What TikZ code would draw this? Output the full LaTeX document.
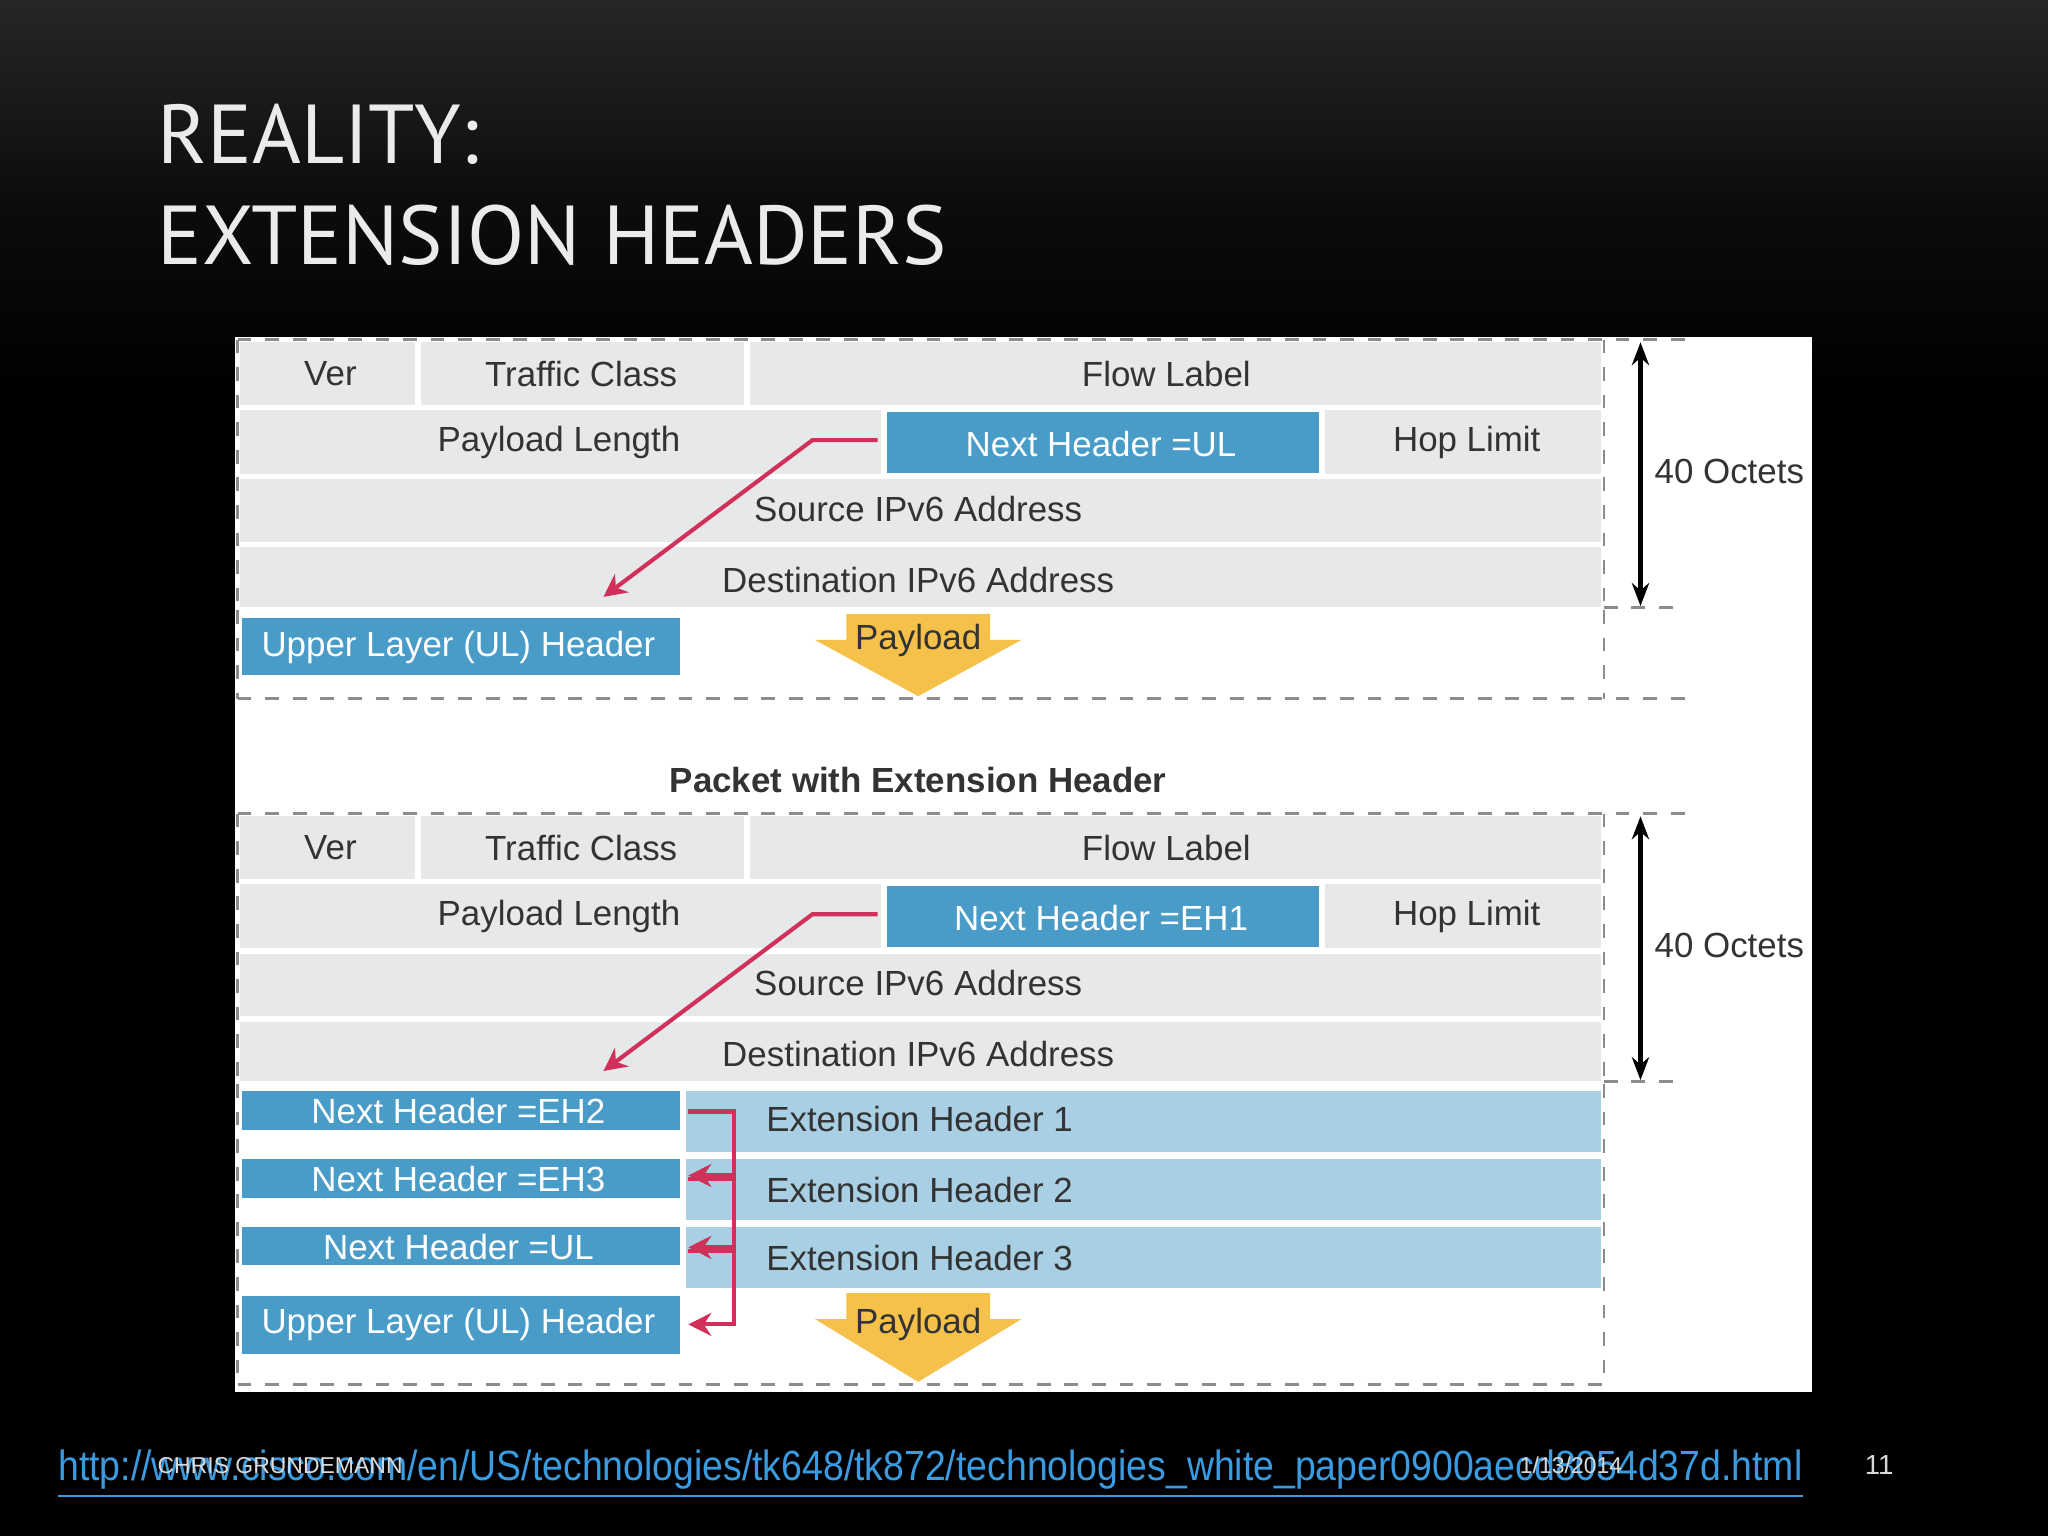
\documentclass[tikz,border=0pt]{standalone}
\usepackage{fontspec}
\setmainfont{Liberation Sans}
\newfontfamily\titlefont{PT Sans}
\usetikzlibrary{arrows.meta}
\definecolor{hdrgray}{HTML}{E6E8EA}
\definecolor{hblue}{HTML}{4A9CC8}
\definecolor{lblue}{HTML}{A8CFE3}
\definecolor{arred}{HTML}{D0305A}
\definecolor{payy}{HTML}{F6C14A}
\definecolor{linkblue}{HTML}{3A9BE0}
\tikzset{
  cell/.style={fill=hdrgray,draw=white,line width=1.2pt},
  bluebox/.style={fill=hblue,draw=white,line width=1.2pt},
  ehrow/.style={fill=lblue,draw=white,line width=1.2pt},
  txt/.style={font=\fontsize{7.6pt}{9pt}\selectfont,text=black!80,inner sep=0},
  wtxt/.style={font=\fontsize{7.6pt}{9pt}\selectfont,text=white,inner sep=0},
  dsh/.style={draw=black!45,dashed,line width=0.6pt},
  redarr/.style={draw=arred,line width=0.9pt,-{Stealth[length=5pt,width=5pt]}},
  oct/.style={draw=black,line width=0.9pt,{Stealth[length=5pt]}-{Stealth[length=5pt]}},
  payload/.style={fill=payy,draw=none}
}
\begin{document}
\begin{tikzpicture}[x=0.01cm,y=-0.01cm]
\useasboundingbox (0,0) rectangle (1568,1176);
\shade[top color=black!85,bottom color=black,middle color=black!95] (0,0) rectangle (1568,300);
\fill[black] (0,300) rectangle (1568,1176);
\node[anchor=west,inner sep=0,text=white!92!black,font=\titlefont\fontsize{18.2pt}{22pt}\selectfont] (t1) at (120,103) {REALITY:};
\node[anchor=west,inner sep=0,text=white!92!black,font=\titlefont\fontsize{18.2pt}{22pt}\selectfont] (t2) at (120,180) {EXTENSION HEADERS};
\fill[white] (180,258) rectangle (1387,1066);
\foreach \o/\nh/\lbl in {0/UL/a,363/EH1/b}{
\begin{scope}[yshift=-\o*0.01cm]
 \draw[cell] (182,260) rectangle (320,312);
 \draw[cell] (320,260) rectangle (572,312);
 \draw[cell] (572,260) rectangle (1228,312);
 \draw[cell] (182,312) rectangle (677,365);
 \draw[cell] (1012,312) rectangle (1228,365);
 \draw[cell] (182,365) rectangle (1228,417);
 \draw[cell] (182,417) rectangle (1228,467);
 \draw[bluebox] (677,313) rectangle (1012,364);
 \node[txt] (ver\lbl) at (253,286) {Ver};
 \node[txt] (tc\lbl) at (445,286) {Traffic Class};
 \node[txt] (fl\lbl) at (893,286) {Flow Label};
 \node[txt] (pl\lbl) at (428,339) {Payload Length};
 \node[wtxt] (nh\lbl) at (843,340) {Next Header =\nh};
 \node[txt] (hl\lbl) at (1123,339) {Hop Limit};
 \node[txt] (src\lbl) at (703,390) {Source IPv6 Address};
 \node[txt] (dst\lbl) at (703,444) {Destination IPv6 Address};
 \coordinate (ra\lbl) at (672,337);
 \coordinate (rb\lbl) at (622,337);
 \coordinate (rc\lbl) at (462,457);
 \draw[redarr] (ra\lbl) -- (rb\lbl) -- (rc\lbl);
 \coordinate (ot\lbl) at (1256,262);
 \coordinate (ob\lbl) at (1256,464);
 \draw[oct] (ot\lbl) -- (ob\lbl);
 \node[txt] (oc\lbl) at (1324,361) {40 Octets};
 \draw[dsh] (182,260) -- (1290,260);
 \draw[dsh] (1228,465) -- (1290,465);
 \draw[dsh] (182,260) -- (182,467);
 \draw[dsh] (1228,260) -- (1228,467);
\end{scope}}
\draw[bluebox] (183,471) rectangle (523,519);
\node[wtxt] (ula) at (351,496) {Upper Layer (UL) Header};
\fill[payload] (648,470) -- (758,470) -- (758,490) -- (782,490) -- (703,533) -- (624,490) -- (648,490) -- cycle;
\node[txt] (paya) at (703,490) {Payload};
\draw[dsh] (182,467) -- (182,535);
\draw[dsh] (1228,467) -- (1228,535);
\draw[dsh] (182,535) -- (1290,535);
\node[txt,font=\bfseries\fontsize{7.6pt}{9pt}\selectfont] (pwe) at (703,597) {Packet with Extension Header};
\draw[ehrow] (523,833) rectangle (1228,884);
\draw[ehrow] (523,885) rectangle (1228,936);
\draw[ehrow] (523,937) rectangle (1228,988);
\draw[bluebox] (183,833) rectangle (523,867);
\draw[bluebox] (183,885) rectangle (523,919);
\draw[bluebox] (183,937) rectangle (523,971);
\draw[bluebox] (183,990) rectangle (523,1039);
\node[wtxt] (e2) at (351,851) {Next Header =EH2};
\node[wtxt] (e3) at (351,903) {Next Header =EH3};
\node[wtxt] (eu) at (351,955) {Next Header =UL};
\node[wtxt] (ulb) at (351,1014) {Upper Layer (UL) Header};
\node[txt,anchor=west] (x1) at (586,857) {Extension Header 1};
\node[txt,anchor=west] (x2) at (586,911) {Extension Header 2};
\node[txt,anchor=west] (x3) at (586,963) {Extension Header 3};
\draw[redarr] (527,851) -- (562,851) -- (562,900) -- (527,900);
\draw[redarr] (527,903) -- (562,903) -- (562,955) -- (527,955);
\draw[redarr] (527,958) -- (562,958) -- (562,1014) -- (527,1014);
\fill[payload] (648,990) -- (758,990) -- (758,1010) -- (782,1010) -- (703,1058) -- (624,1010) -- (648,1010) -- cycle;
\node[txt] (payb) at (703,1014) {Payload};
\draw[dsh] (182,830) -- (182,1060);
\draw[dsh] (1228,830) -- (1228,1060);
\draw[dsh] (182,1060) -- (1228,1060);
\node[anchor=west,inner sep=0,text=linkblue,font=\fontsize{9.2pt}{11pt}\selectfont] (url) at (44,1129) {\scalebox{0.885}[1]{\underline{http://www.cisco.com/en/US/technologies/tk648/tk872/technologies\_white\_paper0900aecd8054d37d.html}}};
\node[anchor=west,inner sep=0,text=white!85!black,font=\fontsize{5pt}{6pt}\selectfont] (auth) at (120,1122) {CHRIS GRUNDEMANN};
\node[anchor=west,inner sep=0,text=white!85!black,font=\fontsize{5pt}{6pt}\selectfont] (date) at (1163,1122) {1/13/2014};
\node[anchor=west,inner sep=0,text=white!85!black,font=\fontsize{6pt}{7pt}\selectfont] (pg) at (1427,1122) {11};
\end{tikzpicture}
\end{document}
